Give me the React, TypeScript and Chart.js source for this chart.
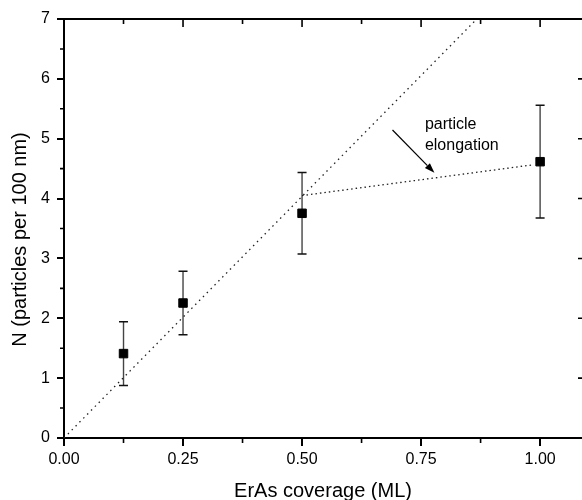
import React, { useEffect, useRef } from "react";
import { Chart, registerables } from "chart.js";

Chart.register(...registerables);

// ---- data ----
const coverage = [0.125, 0.25, 0.5, 1.0];
const density = [1.41, 2.255, 3.754, 4.616];
const densityErr = [0.532, 0.53, 0.68, 0.942];

const linearFitX = [0, 0.867];
const linearFitY = [0, 7];
const elongationX = [0.5, 0.987];
const elongationY = [4.05, 4.566];

const xTicks = [0, 0.25, 0.5, 0.75, 1.0];
const xMinorTicks = [0.125, 0.375, 0.625, 0.875, 1.125];
const yTicks = [0, 1, 2, 3, 4, 5, 6, 7];
const yMinorTicks = [0.5, 1.5, 2.5, 3.5, 4.5, 5.5, 6.5];

const annotationLines = ["particle", "elongation"];
const annotationTextX = 0.758;
const annotationTextY = [5.157, 4.81];
const arrowFrom = [0.69, 5.145];
const arrowTo = [0.778, 4.432];

const xTitle = "ErAs coverage (ML)";
const yTitle = "N (particles per 100 nm)";

const FONT = '"Liberation Sans", Arial, Helvetica, sans-serif';

const decorations = {
  id: "decorations",
  beforeDatasetsDraw(chart: any) {
    const ctx = chart.ctx;
    const xs = chart.scales.x;
    const ys = chart.scales.y;
    ctx.save();
    coverage.forEach((c, i) => {
      const px = xs.getPixelForValue(c);
      const top = ys.getPixelForValue(density[i] + densityErr[i]);
      const bot = ys.getPixelForValue(density[i] - densityErr[i]);
      ctx.strokeStyle = "#444";
      ctx.lineWidth = 1.4;
      ctx.beginPath();
      ctx.moveTo(px, top);
      ctx.lineTo(px, bot);
      ctx.stroke();
      ctx.strokeStyle = "#111";
      ctx.lineWidth = 1.5;
      ctx.beginPath();
      ctx.moveTo(px - 4.5, top);
      ctx.lineTo(px + 4.5, top);
      ctx.moveTo(px - 4.5, bot);
      ctx.lineTo(px + 4.5, bot);
      ctx.stroke();
    });
    ctx.restore();
  },
  afterDraw(chart: any) {
    const ctx = chart.ctx;
    const xs = chart.scales.x;
    const ys = chart.scales.y;
    const { left, right, top, bottom } = chart.chartArea;
    ctx.save();
    ctx.strokeStyle = "#000";
    ctx.lineWidth = 2;
    // frame top (right frame line lies just beyond the canvas edge)
    ctx.beginPath();
    ctx.moveTo(left - 1, top);
    ctx.lineTo(right + 1, top);
    ctx.stroke();
    // ticks
    ctx.lineWidth = 1.6;
    ctx.beginPath();
    xTicks.forEach((v) => {
      const px = xs.getPixelForValue(v);
      ctx.moveTo(px, top);
      ctx.lineTo(px, top + 8);
    });
    xMinorTicks.forEach((v) => {
      const px = xs.getPixelForValue(v);
      if (px > right) return;
      ctx.moveTo(px, bottom);
      ctx.lineTo(px, bottom + 5);
      ctx.moveTo(px, top);
      ctx.lineTo(px, top + 5);
    });
    yMinorTicks.forEach((v) => {
      const py = ys.getPixelForValue(v);
      ctx.moveTo(left, py);
      ctx.lineTo(left - 4, py);
    });
    yTicks.forEach((v) => {
      const py = ys.getPixelForValue(v);
      ctx.moveTo(right + 1, py);
      ctx.lineTo(right - 4, py);
    });
    ctx.stroke();

    // y title
    ctx.fillStyle = "#000";
    ctx.font = `20px ${FONT}`;
    ctx.textAlign = "center";
    ctx.textBaseline = "middle";
    ctx.save();
    ctx.translate(20, (top + bottom) / 2 + 11);
    ctx.rotate(-Math.PI / 2);
    ctx.fillText(yTitle, 0, 0);
    ctx.restore();

    // annotation text
    ctx.font = `16px ${FONT}`;
    ctx.textAlign = "left";
    ctx.textBaseline = "alphabetic";
    annotationLines.forEach((t, i) => {
      ctx.fillText(t, xs.getPixelForValue(annotationTextX), ys.getPixelForValue(annotationTextY[i]));
    });

    // arrow
    const x1 = xs.getPixelForValue(arrowFrom[0]);
    const y1 = ys.getPixelForValue(arrowFrom[1]);
    const x2 = xs.getPixelForValue(arrowTo[0]);
    const y2 = ys.getPixelForValue(arrowTo[1]);
    const ang = Math.atan2(y2 - y1, x2 - x1);
    const headLen = 10;
    const headW = 3.5;
    const bx = x2 - headLen * Math.cos(ang);
    const by = y2 - headLen * Math.sin(ang);
    ctx.strokeStyle = "#000";
    ctx.lineWidth = 1.2;
    ctx.beginPath();
    ctx.moveTo(x1, y1);
    ctx.lineTo(bx, by);
    ctx.stroke();
    ctx.beginPath();
    ctx.moveTo(x2, y2);
    ctx.lineTo(bx + headW * Math.sin(ang), by - headW * Math.cos(ang));
    ctx.lineTo(bx - headW * Math.sin(ang), by + headW * Math.cos(ang));
    ctx.closePath();
    ctx.fillStyle = "#000";
    ctx.fill();
    ctx.restore();
  },
};

export default function App() {
  const ref = useRef<HTMLCanvasElement | null>(null);
  useEffect(() => {
    if (!ref.current) return;
    const chart = new Chart(ref.current, {
      type: "scatter",
      data: {
        datasets: [
          {
            label: "fit",
            data: linearFitX.map((x, i) => ({ x, y: linearFitY[i] })),
            showLine: true,
            borderColor: "#222",
            borderWidth: 1.3,
            borderDash: [1.5, 4],
            pointRadius: 0,
            fill: false,
          },
          {
            label: "elongation",
            data: elongationX.map((x, i) => ({ x, y: elongationY[i] })),
            showLine: true,
            borderColor: "#222",
            borderWidth: 1.3,
            borderDash: [1.5, 3],
            pointRadius: 0,
            fill: false,
          },
          {
            label: "N",
            data: coverage.map((x, i) => ({ x, y: density[i] })),
            pointStyle: "rect",
            pointRadius: 6,
            pointHoverRadius: 6,
            backgroundColor: "#000",
            borderColor: "#000",
            borderWidth: 1,
            showLine: false,
          },
        ],
      },
      options: {
        animation: false,
        responsive: false,
        events: [],
        layout: { autoPadding: false, padding: { top: 19, left: 0, right: 0, bottom: 0 } },
        plugins: {
          legend: { display: false },
          tooltip: { enabled: false },
        },
        scales: {
          x: {
            type: "linear",
            min: 0,
            max: 1.088,
            afterBuildTicks: (s: any) => {
              s.ticks = xTicks.map((v) => ({ value: v }));
            },
            afterFit: (s: any) => {
              s.height = 62;
              s.paddingLeft = 0;
              s.paddingRight = 0;
            },
            ticks: {
              color: "#000",
              font: { family: FONT, size: 16 },
              padding: 4,
              maxRotation: 0,
              autoSkip: false,
              callback: (v: any) => Number(v).toFixed(2),
            },
            grid: {
              display: true,
              drawOnChartArea: false,
              drawTicks: true,
              tickLength: 8,
              tickWidth: 2,
              lineWidth: 2,
              tickColor: "#000",
              color: "#000",
            },
            border: { display: true, color: "#000", width: 2 },
            title: {
              display: true,
              text: xTitle,
              color: "#000",
              font: { family: FONT, size: 20, lineHeight: 1 },
              padding: { top: 0, bottom: -1 },
            },
          },
          y: {
            type: "linear",
            min: 0,
            max: 7,
            afterBuildTicks: (s: any) => {
              s.ticks = yTicks.map((v) => ({ value: v }));
            },
            afterFit: (s: any) => {
              s.width = 64;
              s.paddingTop = 0;
              s.paddingBottom = 0;
            },
            ticks: {
              color: "#000",
              font: { family: FONT, size: 16 },
              padding: 7,
              autoSkip: false,
              callback: (v: any) => String(v),
            },
            grid: {
              display: true,
              drawOnChartArea: false,
              drawTicks: true,
              tickLength: 7,
              tickWidth: 2,
              lineWidth: 2,
              tickColor: "#000",
              color: "#000",
            },
            border: { display: true, color: "#000", width: 2 },
            title: { display: false },
          },
        },
      },
      plugins: [decorations],
    });
    return () => chart.destroy();
  }, []);

  return (
    <div style={{ position: "fixed", left: 0, top: 0, width: 582, height: 500, background: "#fff" }}>
      <canvas ref={ref} width={582} height={500} style={{ width: 582, height: 500, display: "block" }} />
    </div>
  );
}
